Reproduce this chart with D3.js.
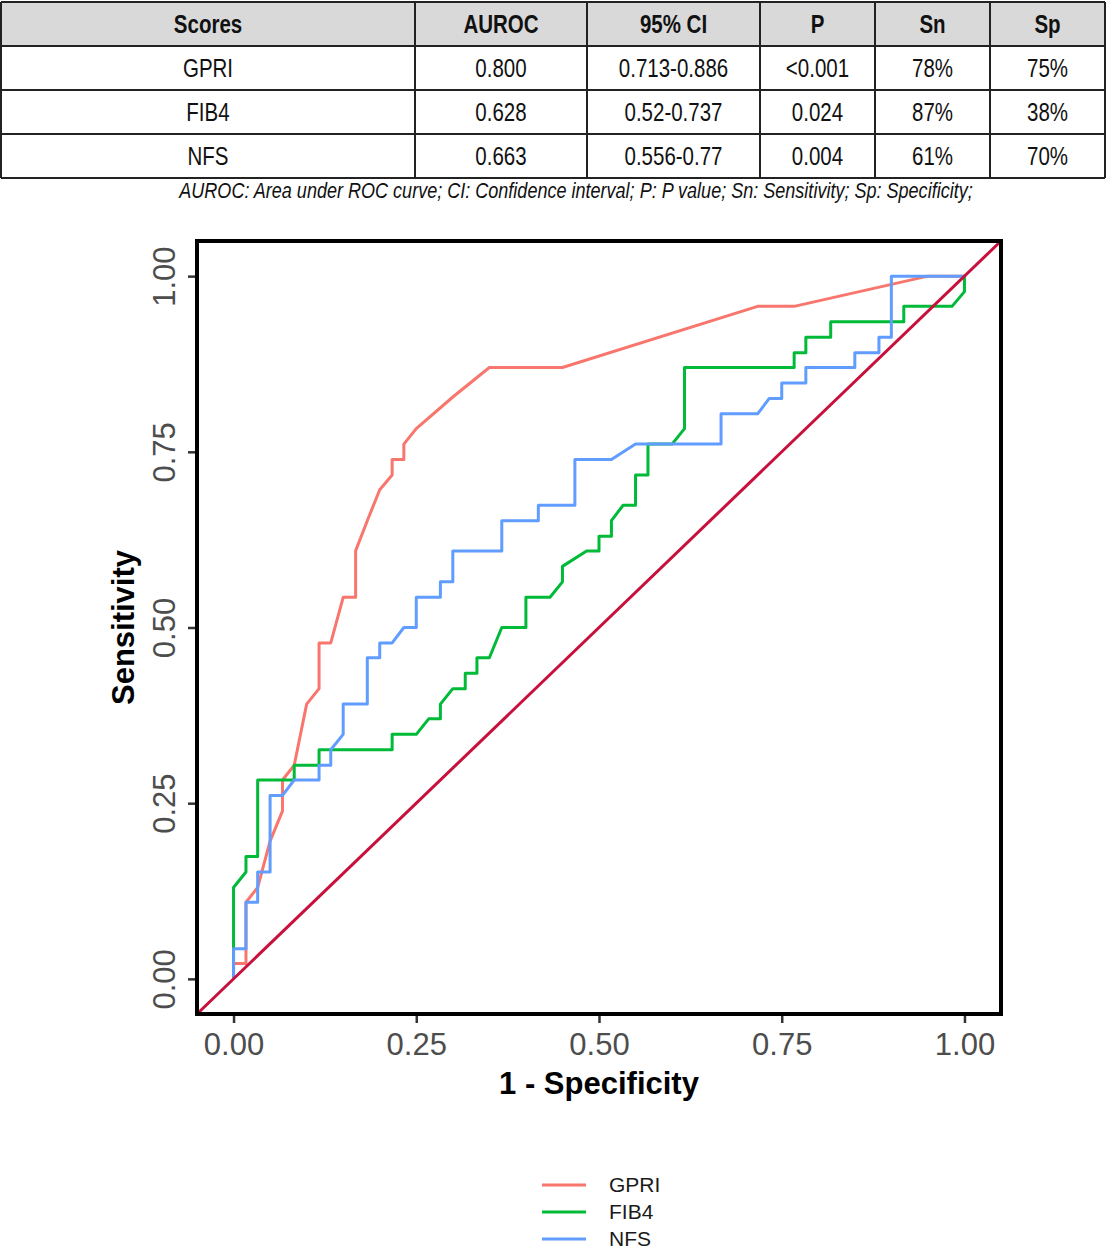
<!DOCTYPE html>
<html>
<head>
<meta charset="utf-8">
<script src="https://cdn.jsdelivr.net/npm/d3@7"></script>
<style>
  body { margin: 0; background: #fff; }
  svg { display: block; }
  .narrow { font-family: "Liberation Sans", Arial, sans-serif; }
</style>
</head>
<body>
<svg id="chart"></svg>
<script>
const width = 1108;
const height = 1250;

// --- Table data ---
const tableHeader = ["Scores", "AUROC", "95% CI", "P", "Sn", "Sp"];
const scoreNames = ["GPRI", "FIB4", "NFS"];
const aurocValues = ["0.800", "0.628", "0.663"];
const ciValues = ["0.713-0.886", "0.52-0.737", "0.556-0.77"];
const pValues = ["<0.001", "0.024", "0.004"];
const snValues = ["78%", "87%", "61%"];
const spValues = ["75%", "38%", "70%"];
const caption = "AUROC: Area under ROC curve; CI: Confidence interval; P: P value; Sn: Sensitivity; Sp: Specificity;";

// --- ROC curves: [1 - specificity, sensitivity] ---
const gpriPoints = [
  [0,0],[0,0.022],[0.017,0.022],[0.017,0.109],[0.033,0.130],[0.050,0.196],[0.067,0.239],
  [0.067,0.283],[0.083,0.304],[0.100,0.391],[0.117,0.413],[0.117,0.478],[0.133,0.478],
  [0.150,0.543],[0.167,0.543],[0.167,0.609],[0.183,0.652],[0.200,0.696],[0.217,0.717],
  [0.217,0.739],[0.233,0.739],[0.233,0.761],[0.250,0.783],[0.300,0.828],[0.350,0.870],
  [0.450,0.870],[0.717,0.957],[0.767,0.957],[0.950,1],[1,1]
];
const fib4Points = [
  [0,0],[0,0.130],[0.017,0.152],[0.017,0.174],[0.033,0.174],[0.033,0.283],[0.083,0.283],
  [0.083,0.304],[0.117,0.304],[0.117,0.326],[0.217,0.326],[0.217,0.348],[0.250,0.348],
  [0.267,0.370],[0.283,0.370],[0.283,0.391],[0.300,0.413],[0.317,0.413],[0.317,0.435],
  [0.333,0.435],[0.333,0.457],[0.350,0.457],[0.367,0.500],[0.400,0.500],[0.400,0.543],
  [0.433,0.543],[0.450,0.565],[0.450,0.587],[0.483,0.609],[0.500,0.609],[0.500,0.630],
  [0.517,0.630],[0.517,0.652],[0.533,0.674],[0.550,0.674],[0.550,0.717],[0.567,0.717],
  [0.567,0.761],[0.600,0.761],[0.617,0.783],[0.617,0.870],[0.767,0.870],[0.767,0.891],
  [0.783,0.891],[0.783,0.913],[0.817,0.913],[0.817,0.935],[0.917,0.935],[0.917,0.957],
  [0.983,0.957],[1,0.978],[1,1]
];
const nfsPoints = [
  [0,0],[0,0.043],[0.017,0.043],[0.017,0.109],[0.033,0.109],[0.033,0.152],[0.050,0.152],
  [0.050,0.261],[0.067,0.261],[0.083,0.283],[0.117,0.283],[0.117,0.304],[0.133,0.304],
  [0.133,0.326],[0.150,0.348],[0.150,0.391],[0.183,0.391],[0.183,0.457],[0.200,0.457],
  [0.200,0.478],[0.217,0.478],[0.233,0.500],[0.250,0.500],[0.250,0.543],[0.283,0.543],
  [0.283,0.565],[0.300,0.565],[0.300,0.609],[0.367,0.609],[0.367,0.652],[0.417,0.652],
  [0.417,0.674],[0.467,0.674],[0.467,0.739],[0.517,0.739],[0.550,0.761],[0.667,0.761],
  [0.667,0.804],[0.717,0.804],[0.733,0.826],[0.750,0.826],[0.750,0.848],[0.783,0.848],
  [0.783,0.870],[0.850,0.870],[0.850,0.891],[0.883,0.891],[0.883,0.913],[0.900,0.913],
  [0.900,1],[1,1]
];
const seriesNames = ["GPRI", "FIB4", "NFS"];
const seriesColors = ["#F8766D", "#00BA38", "#619CFF"];
const axisTicks = [0, 0.25, 0.5, 0.75, 1];

const svg = d3.select("#chart")
  .attr("width", width)
  .attr("height", height);

// --- Table ---
const colEdges = [1, 415, 587, 760, 875, 990, 1105];
const rowEdges = [2, 46, 90, 134, 178];
const narrowScale = 0.82; // no narrow font installed, squeeze regular one
const gTable = svg.append("g").attr("class", "narrow");

gTable.append("rect")
  .attr("x", colEdges[0]).attr("y", rowEdges[0])
  .attr("width", colEdges[6] - colEdges[0])
  .attr("height", rowEdges[1] - rowEdges[0])
  .attr("fill", "#d9d9d9");

const tableRows = [tableHeader].concat(scoreNames.map((s, i) =>
  [s, aurocValues[i], ciValues[i], pValues[i], snValues[i], spValues[i]]));

tableRows.forEach((row, r) => {
  row.forEach((cell, c) => {
    const cx = (colEdges[c] + colEdges[c + 1]) / 2;
    const cy = (rowEdges[r] + rowEdges[r + 1]) / 2 + 9;
    gTable.append("text")
      .attr("transform", `translate(${cx},${cy}) scale(${narrowScale},1)`)
      .attr("text-anchor", "middle")
      .attr("font-size", 25)
      .attr("font-weight", r === 0 ? "bold" : "normal")
      .attr("fill", "#111")
      .text(cell);
  });
});

rowEdges.forEach(y => {
  gTable.append("line")
    .attr("x1", colEdges[0]).attr("x2", colEdges[6])
    .attr("y1", y).attr("y2", y)
    .attr("stroke", "#222").attr("stroke-width", 2);
});
colEdges.forEach(x => {
  gTable.append("line")
    .attr("x1", x).attr("x2", x)
    .attr("y1", rowEdges[0]).attr("y2", rowEdges[4])
    .attr("stroke", "#222").attr("stroke-width", 2);
});

gTable.append("text")
  .attr("transform", `translate(576,198) scale(${narrowScale},1)`)
  .attr("text-anchor", "middle")
  .attr("font-size", 22)
  .attr("font-style", "italic")
  .attr("fill", "#111")
  .text(caption);

// --- ROC plot ---
const panel = {left: 197, right: 1001, top: 241, bottom: 1014};

const x = d3.scaleLinear().domain([-0.05, 1.05]).range([panel.left, panel.right]);
const y = d3.scaleLinear().domain([-0.05, 1.05]).range([panel.bottom, panel.top]);

const line = d3.line()
  .x(d => x(d[0]))
  .y(d => y(d[1]));

const gPlot = svg.append("g");

[gpriPoints, fib4Points, nfsPoints].forEach((pts, i) => {
  gPlot.append("path")
    .datum(pts)
    .attr("fill", "none")
    .attr("stroke", seriesColors[i])
    .attr("stroke-width", 3)
    .attr("stroke-linejoin", "round")
    .attr("d", line);
});

// reference diagonal across the whole panel
gPlot.append("path")
  .datum([[-0.05, -0.05], [1.05, 1.05]])
  .attr("fill", "none")
  .attr("stroke", "#C8103C")
  .attr("stroke-width", 3)
  .attr("d", line);

// panel border
svg.append("rect")
  .attr("x", panel.left).attr("y", panel.top)
  .attr("width", panel.right - panel.left)
  .attr("height", panel.bottom - panel.top)
  .attr("fill", "none")
  .attr("stroke", "#000")
  .attr("stroke-width", 4);

// axes
const xAxis = svg.append("g")
  .attr("transform", `translate(0,${panel.bottom + 2})`)
  .call(d3.axisBottom(x).tickValues(axisTicks).tickFormat(d3.format(".2f")).tickSize(7).tickPadding(7));

const yAxis = svg.append("g")
  .attr("transform", `translate(${panel.left - 2},0)`)
  .call(d3.axisLeft(y).tickValues(axisTicks).tickFormat(d3.format(".2f")).tickSize(7).tickPadding(10));

[xAxis, yAxis].forEach(ax => {
  ax.select(".domain").remove();
  ax.selectAll(".tick line").attr("stroke", "#333").attr("stroke-width", 2.5);
  ax.selectAll(".tick text")
    .attr("fill", "#4d4d4d")
    .attr("font-size", 31)
    .attr("font-family", "Liberation Sans, Arial, sans-serif");
});
xAxis.selectAll(".tick text").attr("dy", "0.8em");
yAxis.selectAll(".tick text")
  .attr("text-anchor", "middle")
  .attr("x", 0)
  .attr("dy", 0)
  .attr("transform", "translate(-20,0) rotate(-90)");

svg.append("text")
  .attr("x", (panel.left + panel.right) / 2)
  .attr("y", 1094)
  .attr("text-anchor", "middle")
  .attr("font-family", "Liberation Sans, Arial, sans-serif")
  .attr("font-weight", "bold")
  .attr("font-size", 31)
  .text("1 - Specificity");

svg.append("text")
  .attr("transform", `translate(134,${(panel.top + panel.bottom) / 2}) rotate(-90)`)
  .attr("text-anchor", "middle")
  .attr("font-family", "Liberation Sans, Arial, sans-serif")
  .attr("font-weight", "bold")
  .attr("font-size", 31)
  .text("Sensitivity");

// --- Legend ---
const gLegend = svg.append("g")
  .attr("font-family", "Liberation Sans, Arial, sans-serif");
seriesNames.forEach((name, i) => {
  const ly = 1185 + i * 27;
  gLegend.append("line")
    .attr("x1", 542).attr("x2", 586)
    .attr("y1", ly).attr("y2", ly)
    .attr("stroke", seriesColors[i])
    .attr("stroke-width", 3);
  gLegend.append("text")
    .attr("x", 609)
    .attr("y", ly + 7)
    .attr("font-size", 21)
    .attr("fill", "#1a1a1a")
    .text(name);
});
</script>
</body>
</html>
